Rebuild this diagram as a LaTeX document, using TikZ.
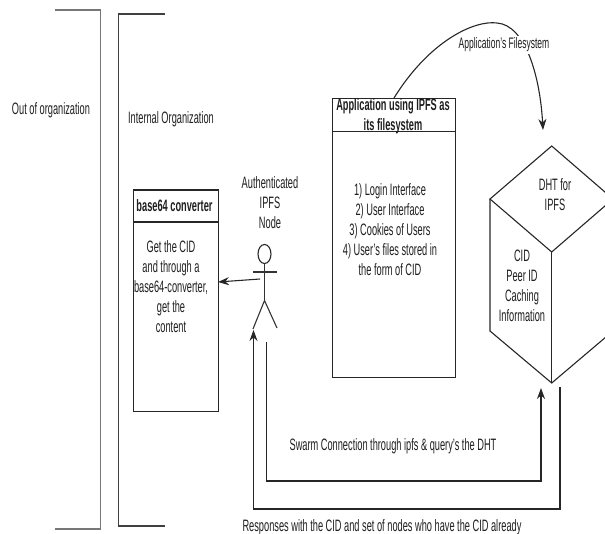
\documentclass[tikz,border=0pt]{standalone}
\usepackage{xcolor}
\usepackage{fontspec}
\setmainfont[FakeStretch=0.56]{Liberation Sans}
\usetikzlibrary{arrows.meta,positioning,shapes.geometric,calc}
\definecolor{inktext}{HTML}{1E1E1E}
\definecolor{bracketgray}{HTML}{777777}
\tikzset{
  label text/.style={font=\fontsize{16.5}{20}\selectfont,text=inktext,align=center,inner sep=0pt},
  head text/.style={label text,font=\fontsize{16.5}{20}\selectfont\bfseries},
  panel/.style={draw=black!85,line width=1.2pt,anchor=north west,inner sep=0pt},
  link/.style={draw=black!85,line width=1.1pt,-{Stealth[length=11pt,width=8pt]}},
}
\begin{document}
\begin{tikzpicture}[x=1pt,y=-1pt]
  \useasboundingbox (0,0) rectangle (605,534);
  \clip (0,0) rectangle (605,534);
  % the two brackets on the left
  \draw[bracketgray,line width=1.3pt] (54.5,10) -- (100.5,10) -- (100.5,529) -- (54.5,529);
  \draw[black!75,line width=1.1pt] (165,14) -- (118.5,14) -- (118.5,526) -- (165,526);
  \node[label text] (outside) at (51,110) {Out of organization};
  \node[label text] (internal) at (171,119) {Internal Organization};

  % base64 box
  \node[panel,minimum width=85pt,minimum height=32pt] (convhead) at (132.5,189.5) {};
  \node[panel,minimum width=85pt,minimum height=189.5pt] (convbody) at (132.5,221.5) {};
  \node[head text] (convtitle) at (174.5,206) {base64 converter};
  \node[label text,anchor=north] (convtext) at (171,240) {Get the CID\\and through a\\base64-converter,\\get the\\content};

  % the node, a stick figure
  \node[label text,anchor=north] (actorname) at (270,176) {Authenticated\\IPFS\\Node};
  \node[ellipse,draw=black!85,line width=1.1pt,minimum width=13pt,minimum height=19pt,inner sep=0pt] (actorhead) at (264.5,254) {};
  \coordinate (hip) at (264.5,300.5);
  \draw[black!80,line width=1.1pt] (actorhead.south) -- (hip);
  \draw[black!80,line width=1.1pt] (253,272) -- (277,272);
  \draw[black!80,line width=1.1pt] (253,329) -- (hip) -- (277,328);

  % application box
  \node[panel,minimum width=123pt,minimum height=33pt] (apphead) at (332,98) {};
  \node[panel,minimum width=123pt,minimum height=246pt] (appbody) at (332,131) {};
  \node[head text,anchor=north] (apptitle) at (393,98) {Application using IPFS as\\its filesystem};
  \node[label text,anchor=north] (apptext) at (390,183) {1) Login Interface\\2) User Interface\\3) Cookies of Users\\4) User's files stored in\\the form of CID};

  % DHT cube, runs off the right edge
  \coordinate (dhttop) at (551.7,146);
  \coordinate (dhtleft) at (490,199);
  \coordinate (dhtright) at (613,199);
  \coordinate (dhtmid) at (551.7,252);
  \coordinate (dhtlow) at (490,331);
  \coordinate (dhtlowr) at (613,331);
  \coordinate (dhtbase) at (551.7,383);
  \draw[black!85,line width=1.1pt] (dhttop) -- (dhtright) -- (dhtmid) -- (dhtleft) -- cycle;
  \draw[black!85,line width=1.1pt] (dhtleft) -- (dhtlow) -- (dhtbase) -- (dhtlowr) -- (dhtright);
  \draw[black!85,line width=1.1pt] (dhtmid) -- (dhtbase);
  \node[label text,anchor=north] (dhtname) at (555,178) {DHT for\\IPFS};
  \node[label text,anchor=north] (dhtinfo) at (522,249.5) {CID\\Peer ID\\Caching\hspace*{8pt}\\Information};

  % connectors
  \coordinate (actorarm) at (260,279);
  \coordinate (convin) at (218,282);
  \draw[link] (actorarm) -- (convin);

  \coordinate (peak) at (497,23);
  \coordinate (dhtin) at (543,130);
  \draw[link] (394,98) .. controls (430,40) and (475,20) .. (peak) .. controls (525,25) and (540,75) .. (dhtin);
  \node[label text,fill=white,inner ysep=2pt,font=\fontsize{15.2}{20}\selectfont] (fslabel) at (504,45) {Application's Filesystem};

  \coordinate (swarmstart) at (266.5,342);
  \coordinate (swarmend) at (541,388);
  \draw[link] (swarmstart) |- (swarmend |- 0,481) -- (swarmend);
  \node[label text] (swarmlabel) at (393,446) {Swarm Connection through ipfs \& query's the DHT};

  \coordinate (replystart) at (560,387);
  \coordinate (replyend) at (253.5,330);
  \draw[link] (replystart) |- (replyend |- 0,509) -- (replyend);
  \node[label text] (replylabel) at (382,527) {Responses with the CID and set of nodes who have the CID already};
\end{tikzpicture}
\end{document}
